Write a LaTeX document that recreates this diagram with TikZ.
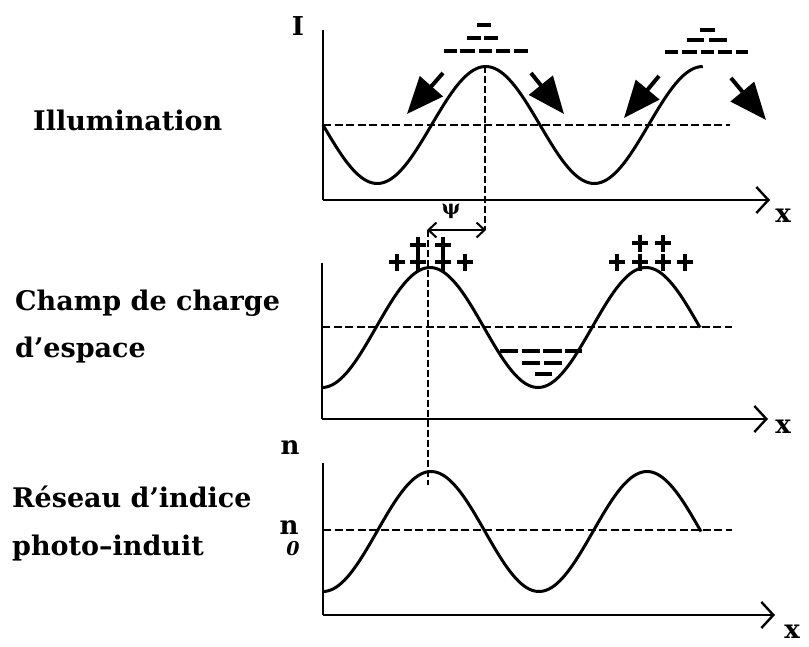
\documentclass[tikz,border=0pt]{standalone}
\usepackage{fontspec}
\newfontfamily\labfont{DejaVu Serif}
\usetikzlibrary{arrows.meta}
\begin{document}
\begin{tikzpicture}[x=1pt,y=-1pt,
  lab/.style={font=\labfont\bfseries\fontsize{27}{30}\selectfont, inner sep=0pt},
  axlab/.style={font=\labfont\bfseries\fontsize{26}{28}\selectfont, inner sep=0pt},
  axis/.style={line width=2.4pt},
  axarrow/.style={line width=2.4pt, -{Straight Barb[length=12pt,width=26pt,line width=2.4pt]}},
  curve/.style={line width=3pt},
  meanline/.style={line width=2.6pt, dash pattern=on 8pt off 3.5pt},
  guide/.style={line width=2.8pt, dash pattern=on 7pt off 3pt},
  bigarrow/.style={line width=4pt, -{Triangle[length=37pt,width=30pt]}},
  charge/.style={line width=3.6pt},
  pluslen/.style={line width=3.8pt}
]
\useasboundingbox (0,0) rectangle (809,646);

% ---------- Labels ----------
\node[lab, anchor=west] (lillum) at (33,120) {Illumination};
\node[lab, anchor=west] (lchamp) at (15,303) {Champ de charge};
\node[lab, anchor=west] (lesp) at (15,350) {d’espace};
\node[lab, anchor=west] (lres) at (12,497) {Réseau d’indice};
\node[lab, anchor=west] (lphoto) at (12,548) {photo–induit};

% ---------- Panel 1 : Illumination ----------
\coordinate (o1) at (323,200);
\coordinate (t1) at (323,30);
\coordinate (e1) at (770,200);
\draw[axis] (t1) -- (o1);
\draw[axarrow] (o1) -- (e1);
\node[axlab] (I) at (298,26) {I};
\node[axlab] (x1) at (783,216) {x};
\coordinate (m1a) at (323,125);
\coordinate (m1b) at (730,125);
\draw[meanline] (m1a) -- (m1b);
\draw[curve] plot[domain=0:630, samples=140] ({323+\x/360*217},{125+58.5*sin(\x)});

% minus charges above the maxima
\foreach \xa/\xb/\yy in {477/491/25, 467/481/38, 484/498/38,
    444/457/51, 460/475/51, 479/492/51, 496/510/51, 514/528/51,
    700/715/30, 687/704/40, 709/727/40,
    665/678/52, 682/697/52, 701/714/52, 718/732/52, 736/748/52}{
  \draw[charge] (\xa,\yy) -- (\xb,\yy);
}

% drift arrows
\coordinate (a1s) at (443,73);  \coordinate (a1t) at (407,114);
\coordinate (a2s) at (531,73);  \coordinate (a2t) at (564,114);
\coordinate (a3s) at (659,76);  \coordinate (a3t) at (624,118);
\coordinate (a4s) at (731,78);  \coordinate (a4t) at (766,120);
\draw[bigarrow] (a1s) -- (a1t);
\draw[bigarrow] (a2s) -- (a2t);
\draw[bigarrow] (a3s) -- (a3t);
\draw[bigarrow] (a4s) -- (a4t);

% phase shift
\coordinate (g1a) at (485,66);
\coordinate (g1b) at (485,230);
\draw[guide] (g1a) -- (g1b);
\coordinate (p1) at (427,230);
\coordinate (p2) at (486,230);
\draw[line width=2pt, {Straight Barb[length=8pt,width=15pt]}-{Straight Barb[length=8pt,width=15pt]}] (p1) -- (p2);
\node[font=\labfont\bfseries\fontsize{20}{22}\selectfont, inner sep=0pt] (psi) at (451,211) {ψ};

% ---------- Panel 2 : Champ de charge d'espace ----------
\coordinate (o2) at (322,419);
\coordinate (t2) at (322,263);
\coordinate (e2) at (768,419);
\draw[axis] (t2) -- (o2);
\draw[axarrow] (o2) -- (e2);
\node[axlab] (x2) at (783,427) {x};
\coordinate (m2a) at (322,327);
\coordinate (m2b) at (732,327);
\draw[meanline] (m2a) -- (m2b);
\draw[curve] plot[domain=0:630, samples=140] ({322+\x/360*216},{327.5+60*cos(\x)});

% plus charges
\foreach \px/\py in {397/262,418/262,443/262,465/262,418/245,443/245,
                     617/262,640/262,663/262,685/262,640/243,663/243}{
  \draw[pluslen] (\px-8,\py) -- (\px+8,\py);
  \draw[pluslen] (\px,\py-8.5) -- (\px,\py+8.5);
}
% minus charges in the trough
\foreach \xa/\xb/\yy in {500/518/351, 522/540/351, 543/562/351, 565/582/351,
    522/540/363, 544/562/363, 535/552/374}{
  \draw[charge] (\xa,\yy) -- (\xb,\yy);
}

% guide from panel 2 max to panel 3 max
\coordinate (g2a) at (428,230);
\coordinate (g2b) at (428,485);
\draw[guide] (g2a) -- (g2b);

% ---------- Panel 3 : Reseau d'indice ----------
\coordinate (o3) at (323,615);
\coordinate (t3) at (323,463);
\coordinate (e3) at (775,615);
\draw[axis] (t3) -- (o3);
\draw[axarrow] (o3) -- (e3);
\node[axlab] (x3) at (792,632) {x};
\node[axlab] (n) at (290,448) {n};
\node[axlab] (n0) at (289,528) {n};
\node[font=\labfont\bfseries\itshape\fontsize{19}{20}\selectfont, inner sep=0pt] (zero) at (293,549) {0};
\coordinate (m3a) at (323,530);
\coordinate (m3b) at (732,530);
\draw[meanline] (m3a) -- (m3b);
\draw[curve] plot[domain=0:630, samples=140] ({323+\x/360*216},{531.5+60*cos(\x)});
\end{tikzpicture}
\end{document}
